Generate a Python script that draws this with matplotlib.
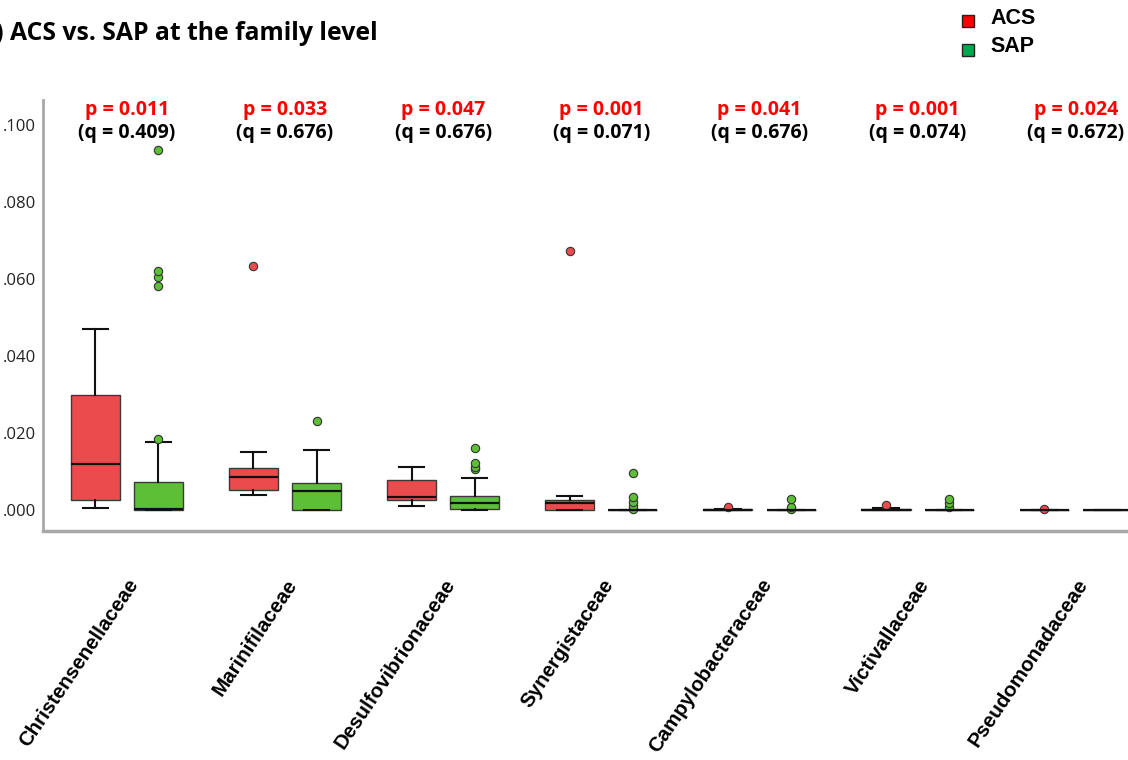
import numpy as np
import matplotlib.pyplot as plt
from matplotlib.patches import Rectangle
from matplotlib.ticker import FuncFormatter
from matplotlib.transforms import ScaledTranslation

# family names and test results
families = ['Christensenellaceae', 'Marinifilaceae', 'Desulfovibrionaceae',
            'Synergistaceae', 'Campylobacteraceae', 'Victivallaceae',
            'Pseudomonadaceae']
p_values = ['0.011', '0.033', '0.047', '0.001', '0.041', '0.001', '0.024']
q_values = ['0.409', '0.676', '0.676', '0.071', '0.676', '0.074', '0.672']

# ACS box stats (relative abundance)
acs_whislo = [0.0004, 0.0038, 0.0010, 0.0001, 0.0000, 0.0000, 0.0000]
acs_q1 = [0.0027, 0.0051, 0.0027, 0.0001, 0.0000, 0.0000, 0.0000]
acs_med = [0.0120, 0.0086, 0.0034, 0.0017, 0.0001, 0.0001, 0.0000]
acs_q3 = [0.0298, 0.0108, 0.0077, 0.0027, 0.0002, 0.0002, 0.0000]
acs_whishi = [0.0471, 0.0150, 0.0112, 0.0036, 0.0003, 0.0004, 0.0000]
acs_fliers = [[], [0.0635], [], [0.0674], [0.0008], [0.0013], [0.0003]]

# SAP box stats
sap_whislo = [0.0001, 0.0000, 0.0001, 0.0000, 0.0000, 0.0000, 0.0000]
sap_q1 = [0.0001, 0.0000, 0.0002, 0.0000, 0.0000, 0.0000, 0.0000]
sap_med = [0.0002, 0.0050, 0.0017, 0.0000, 0.0000, 0.0000, 0.0000]
sap_q3 = [0.0073, 0.0069, 0.0036, 0.0000, 0.0000, 0.0000, 0.0000]
sap_whishi = [0.0176, 0.0157, 0.0082, 0.0000, 0.0000, 0.0000, 0.0000]
sap_fliers = [[0.0184, 0.0581, 0.0606, 0.0622, 0.0934],
              [0.0231],
              [0.0107, 0.0113, 0.0121, 0.0162],
              [0.0002, 0.0010, 0.0021, 0.0033, 0.0096],
              [0.0003, 0.0007, 0.0028],
              [0.0008, 0.0018, 0.0028],
              []]


def make_stats(lo, q1, med, q3, hi, fl):
    return [dict(whislo=a, q1=b, med=c, q3=d, whishi=e, fliers=f)
            for a, b, c, d, e, f in zip(lo, q1, med, q3, hi, fl)]


acs_stats = make_stats(acs_whislo, acs_q1, acs_med, acs_q3, acs_whishi, acs_fliers)
sap_stats = make_stats(sap_whislo, sap_q1, sap_med, sap_q3, sap_whishi, sap_fliers)

fig = plt.figure(figsize=(11.28, 7.6), dpi=100)
ax = fig.add_axes([43 / 1128, 1 - 531 / 760, 1 - 43 / 1128, (531 - 100) / 760])

x = np.arange(len(families))
red_fill = '#ec4b4d'
green_fill = '#5cbf35'


def draw(stats, pos, color):
    ax.bxp(stats, positions=pos, widths=0.31, capwidths=0.16, patch_artist=True,
           boxprops=dict(facecolor=color, edgecolor='#3a3a3a', linewidth=1),
           medianprops=dict(color='#111111', linewidth=1.6),
           whiskerprops=dict(color='#111111', linewidth=1.5),
           capprops=dict(color='#111111', linewidth=1.5),
           flierprops=dict(marker='o', markerfacecolor=color, markeredgecolor='#333333',
                           markersize=6, markeredgewidth=0.8))


draw(acs_stats, x - 0.2, red_fill)
draw(sap_stats, x + 0.2, green_fill)

ax.set_xlim(-0.53, 6.33)
ax.set_ylim(-0.00545, 0.1065)

for s in ['top', 'right']:
    ax.spines[s].set_visible(False)
ax.spines['left'].set_color('#a8a8a8')
ax.spines['left'].set_linewidth(2)
ax.spines['bottom'].set_color('#a8a8a8')
ax.spines['bottom'].set_linewidth(2.5)

ax.set_yticks([0, 0.02, 0.04, 0.06, 0.08, 0.10])
ax.yaxis.set_major_formatter(FuncFormatter(lambda v, _: f'{v:.3f}'.lstrip('0')))
ax.tick_params(axis='y', length=0, pad=5, labelsize=12, labelcolor='#222222')
for lab in ax.get_yticklabels():
    lab.set_family('Open Sans')

ax.set_xticks(x)
ax.set_xticklabels(families, rotation=56, ha='right', va='center',
                   rotation_mode='anchor', fontsize=14.8, fontweight='bold',
                   family='Liberation Sans')
ax.tick_params(axis='x', length=0, pad=36)
shift = ScaledTranslation(0.08, 0, fig.dpi_scale_trans)
for lab in ax.get_xticklabels():
    lab.set_transform(lab.get_transform() + shift)

# p / q annotations
for i in range(len(families)):
    ax.text(x[i], 0.1040, f'p = {p_values[i]}', ha='center', va='center',
            color='#ff0000', fontsize=14, fontweight='bold', family='Open Sans',
            clip_on=False)
    ax.text(x[i], 0.0980, f'(q = {q_values[i]})', ha='center', va='center',
            color='black', fontsize=14, fontweight='bold', family='Open Sans',
            clip_on=False)

fig.text(378 / 1128, 1 - 33 / 760, '(a) ACS vs. SAP at the family level',
         ha='right', va='center', fontsize=17.8, fontweight='bold', family='Open Sans')

# legend
for lbl, col, yc in [('ACS', '#ff0000', 21), ('SAP', '#00a84f', 50)]:
    fig.add_artist(Rectangle((962 / 1128, 1 - (yc + 6) / 760), 12 / 1128, 12 / 760,
                             transform=fig.transFigure, facecolor=col,
                             edgecolor='#222222', linewidth=1))
    fig.text(990 / 1128, 1 - (yc - 3) / 760, lbl, ha='left', va='center',
             fontsize=15.5, fontweight='bold', family='Liberation Sans')

fig.savefig('out.png', dpi=100)
